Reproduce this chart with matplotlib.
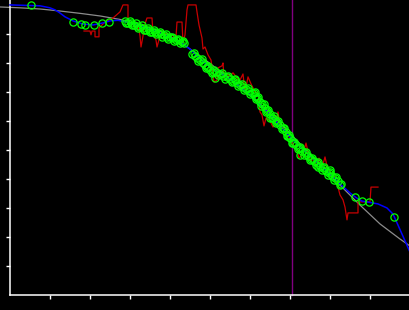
import matplotlib
matplotlib.use("Agg")
import matplotlib.pyplot as plt

# reference (theory) curve
ref_x = [-2.5, 2.5, 7.5, 12.5, 17.5, 22.5, 27.5, 32.5, 37.5, 42.5, 47.5, 52.5,
         57.5, 62.5, 67.5, 72.5, 77.5, 82.5, 87.5, 92.5, 97.5, 100]
ref_y = [99.3, 99.0, 98.6, 97.9, 97.1, 96.2, 95.0, 93.1, 91.0, 87.2, 82.4, 77.2,
         71.7, 65.9, 59.3, 52.1, 45.2, 37.9, 31.0, 24.5, 19.3, 16.9]

# smooth fit
fit_x = [0, 5, 7.5, 10, 11.25, 12.5, 13.75, 15.75, 18.25, 20.75, 23.25, 25, 27,
         29.25, 32.5, 37.5, 42.5, 45, 47.5, 50, 55, 60, 65, 70, 75, 80, 82.5, 85,
         86.5, 88, 90, 92, 94.25, 95.75, 97, 98, 99, 100]
fit_y = [100.0, 99.8, 99.7, 99.0, 98.3, 97.2, 95.9, 94.5, 93.4, 93.1, 93.8, 94.5,
         94.7, 94.1, 92.8, 90.3, 87.2, 84.8, 81.4, 78.6, 74.5, 69.0, 62.1, 54.5,
         47.9, 41.7, 38.3, 35.2, 33.6, 32.4, 31.9, 31.4, 30.0, 27.9, 24.1, 21.0,
         17.9, 14.8]

# raw measured trace
raw_x = [18.5, 20, 20.25, 20.5, 21.25, 21.25, 22.25, 22.25, 23.75, 25.75, 27.5,
         28.25, 29.5, 29.5, 30.75, 31.75, 32.25, 32.5, 32.75, 33.25, 33.5, 34.25,
         35.5, 35.75, 36.5, 36.75, 37.5, 38, 38.5, 40, 41.5, 41.75, 43, 43.25,
         43.75, 44.25, 44.5, 46.5, 46.75, 47.25, 48, 48.25, 48.75, 49.5, 50.25,
         51, 51.75, 52, 53, 53.25, 53.5, 54.25, 55, 55.75, 56.75, 57.5, 58.25,
         58.75, 59.5, 60.25, 61.25, 62, 62.5, 63, 63.5, 64, 65, 65.75, 66.5, 67,
         67.5, 68.25, 69, 69.75, 70.5, 71.25, 71.75, 72.25, 73.25, 74, 74.5,
         75.25, 75.75, 76.5, 77.25, 78, 78.75, 79.25, 80, 81, 81.75, 82.5, 83.25,
         83.75, 84.25, 84.5, 87, 87, 88, 90, 90.25, 92]
raw_y = [91.0, 91.0, 89.7, 91.0, 91.0, 89.0, 89.0, 92.1, 94.1, 95.5, 97.6,
         100.0, 100.0, 94.1, 93.4, 92.8, 91.4, 89.3, 85.5, 89.3, 92.4, 95.5,
         95.5, 90.3, 87.9, 85.5, 89.3, 91.0, 90.3, 89.7, 89.0, 94.1, 94.1, 86.9,
         89.7, 98.3, 100.0, 100.0, 97.6, 93.1, 88.6, 84.8, 85.5, 82.8, 81.0,
         73.4, 74.1, 78.3, 79.0, 80.0, 74.8, 76.2, 75.5, 76.6, 74.8, 74.1, 76.2,
         69.7, 75.2, 72.8, 70.0, 69.7, 63.1, 62.1, 58.3, 61.0, 60.0, 57.9, 59.7,
         63.1, 58.3, 57.6, 55.2, 54.5, 52.4, 51.0, 50.0, 47.2, 48.6, 52.4, 49.3,
         45.9, 47.2, 44.1, 47.2, 43.8, 47.6, 44.5, 42.4, 41.0, 38.6, 34.5, 32.8,
         30.3, 25.9, 28.3, 28.3, 32.1, 32.1, 32.1, 37.2, 37.2]

# sample points
pts_x = [5.25, 15.75, 17.75, 18.75, 21, 23, 24.75,
         28.8, 29.5, 30.3, 31, 31.8, 32.5, 33.3, 34, 34.8, 35.5, 36.3, 37, 37.8,
         38.5, 39.3, 40, 40.8, 41.5, 42.3, 43, 43.5,
         29.1, 29.9, 30.6, 31.4, 32.1, 32.9, 33.6, 34.4, 35.1, 35.9, 36.6, 37.4,
         38.1, 38.9, 39.6, 40.4, 41.1, 41.9, 42.6, 43.2,
         45.5, 46.25, 46.75, 47.5, 48.25, 48.75, 49.25, 50, 50.75, 51.5, 52.5,
         53.25, 54.25, 55, 55.75, 56.75, 57.5, 58.25, 59, 59.75, 60.5, 61.25,
         61.75, 62.5, 63, 63.75, 64.25, 65, 65.75, 66.25, 66.75, 67.5, 68.25,
         69, 69.5, 70, 70.75, 71.5, 72.25, 73, 73.75, 74.5, 75.25, 76, 76.75,
         77.5, 78.25, 79, 79.75, 80.5, 81.25, 82, 82.75,
         45.9, 47.1, 47.9, 49.0, 49.6, 50.4, 51.1, 52.0, 52.9, 53.7, 54.6, 55.4,
         56.2, 57.1, 57.9, 58.6, 59.4, 60.1, 60.9, 61.5, 62.1, 62.8, 63.4, 64.0,
         64.6, 65.4, 66.0, 66.5, 67.1, 67.9, 68.6, 69.3, 69.8, 70.4, 71.1, 71.9,
         72.6, 73.4, 74.1, 74.9, 75.6, 76.4, 77.1, 77.9, 78.6, 79.4, 80.1, 80.9,
         81.6, 82.4,
         51.25, 56.25, 61.25, 65, 72.5, 77, 80,
         86.25, 88, 89.75, 96]
pts_y = [100.0, 94.1, 93.4, 93.1, 93.1, 93.8, 94.1,
         94.5, 93.8, 93.8, 93.1, 92.8, 92.4, 92.1, 91.4, 91.4, 90.7, 90.7, 90.3,
         90.0, 89.7, 89.0, 89.0, 88.6, 87.9, 87.9, 87.2, 86.9,
         93.7, 94.5, 93.0, 93.8, 92.2, 93.0, 91.4, 92.2, 90.6, 91.4, 89.9, 90.7,
         89.1, 89.9, 88.3, 89.1, 87.5, 88.3, 86.8, 87.7,
         83.1, 82.4, 81.7, 81.0, 80.0, 79.3, 78.6, 77.6, 76.9, 76.9, 76.2,
         75.5, 75.2, 74.5, 73.8, 73.1, 72.4, 71.7, 71.0, 70.3, 69.7, 68.6,
         67.9, 66.6, 65.9, 64.5, 63.4, 62.4, 61.0, 60.3, 59.7, 58.6, 57.6,
         56.2, 54.8, 54.1, 52.4, 51.7, 50.7, 49.7, 49.0, 47.9, 46.9, 46.2, 45.5,
         44.5, 43.8, 42.8, 42.1, 41.0, 40.3, 39.3, 38.3,
         83.5, 80.6, 81.3, 78.2, 78.9, 76.5, 77.7, 75.7, 76.7, 74.5, 75.6, 73.3,
         74.3, 72.0, 72.9, 70.6, 71.4, 69.2, 69.8, 67.4, 68.1, 65.3, 66.0, 63.2,
         63.8, 60.9, 61.6, 59.2, 60.0, 57.1, 57.6, 54.7, 55.3, 52.5, 52.9, 50.4,
         51.0, 48.3, 49.2, 46.5, 47.4, 44.9, 45.8, 43.2, 44.0, 41.5, 42.3, 39.7,
         40.6, 38.0,
         74.8, 74.1, 70.0, 61.0, 48.3, 44.1, 43.1,
         33.8, 32.4, 32.1, 26.9]

marker_x = 70.5

fig = plt.figure(figsize=(4.1, 3.1), dpi=100, facecolor="black")
ax = fig.add_axes([0, 0, 1, 1], facecolor="black")

ax.plot([marker_x, marker_x], [0, 101.7], color="#800080", lw=1.0, zorder=1)
ax.plot(ref_x, ref_y, color="#8c8c8c", lw=0.9, zorder=2)
ax.plot(raw_x, raw_y, color="#c80000", lw=0.9, zorder=3)
ax.plot(fit_x, fit_y, color="#0000ff", lw=1.1, zorder=4)
ax.plot(pts_x, pts_y, ls="none", marker="o", ms=5.2, mfc="none",
        mec="#00ff00", mew=0.9, zorder=5)

ax.set_xlim(-2.5, 100)
ax.set_ylim(-5.17, 101.7)
for s in ("top", "right"):
    ax.spines[s].set_visible(False)
ax.spines["left"].set_position(("data", 0))
ax.spines["bottom"].set_position(("data", 0))
ax.spines["left"].set_bounds(0, 101.7)
ax.spines["bottom"].set_bounds(0, 100)
for s in ("left", "bottom"):
    ax.spines[s].set_color("white")
    ax.spines[s].set_linewidth(1.1)
ax.set_xticks(range(10, 100, 10))
ax.set_yticks(range(10, 100, 10))
ax.tick_params(colors="white", length=2.8, width=1.0, direction="out",
               labelbottom=False, labelleft=False)

fig.savefig("out.png", dpi=100, facecolor="black")
